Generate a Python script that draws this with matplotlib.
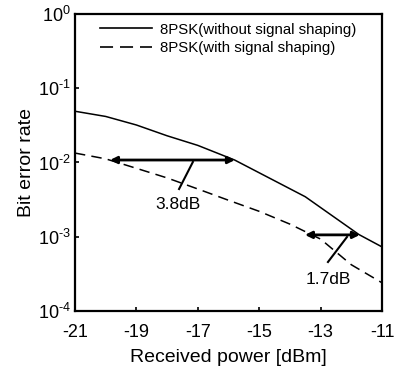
import numpy as np
import matplotlib
matplotlib.use("Agg")
import matplotlib.pyplot as plt
from matplotlib.lines import Line2D
from matplotlib.ticker import LogLocator, FuncFormatter, NullLocator

plt.rcParams["font.family"] = ["Liberation Sans", "DejaVu Sans"]
plt.rcParams["mathtext.fontset"] = "custom"
plt.rcParams["mathtext.rm"] = "Liberation Sans"
plt.rcParams["mathtext.it"] = "Liberation Sans"
plt.rcParams["mathtext.default"] = "regular"
plt.rcParams["axes.unicode_minus"] = False
plt.rcParams["lines.scale_dashes"] = False

power_solid = [-21, -20, -19, -18, -17, -15.8, -13.5, -11.75, -11]
ber_solid = [0.049, 0.0417, 0.032, 0.0229, 0.017, 0.0108, 0.00346, 0.00107, 0.00073]

power_dashed = [-21, -20, -19, -18, -17, -16, -15, -14, -13, -12, -11]
ber_dashed = [0.0134, 0.0112, 0.00835, 0.0062, 0.0044, 0.0031, 0.0022, 0.00148, 0.00093, 0.00042, 0.00024]

labels = ["8PSK(without signal shaping)", "8PSK(with signal shaping)"]

# power penalty arrows: (x_start, x_end, ber)
gain1 = (-19.86, -15.79, 0.0108)
gain2 = (-13.51, -11.72, 0.00106)


def sci_label(v, pos):
    e = int(round(np.log10(v)))
    if e < 0:
        return r"$10^{\text{-}%d}$" % (-e)
    return r"$10^{%d}$" % e


fig = plt.figure(figsize=(3.98, 3.73), dpi=100)
ax = fig.add_axes([0.1884, 0.1662, 0.7714, 0.7963])

ax.semilogy(power_solid, ber_solid, color="black", lw=1.1)
ax.semilogy(power_dashed, ber_dashed, color="black", lw=1.1, dashes=(7.5, 4.5))

for x0, x1, y in [gain1, gain2]:
    ax.annotate("", xy=(x0, y), xytext=(x1, y),
                arrowprops=dict(arrowstyle="<|-|>", color="black", lw=2.0,
                                mutation_scale=10, shrinkA=0, shrinkB=0))

# leader lines and labels
ax.plot([-17.16, -17.61], [10 ** -1.993, 10 ** -2.357], color="black", lw=1.5)
ax.text(-17.65, 10 ** -2.56, "3.8dB", ha="center", va="center", fontsize=12.5)
ax.plot([-12.14, -12.76], [10 ** -3.003, 10 ** -3.34], color="black", lw=1.5)
ax.text(-12.76, 10 ** -3.58, "1.7dB", ha="center", va="center", fontsize=12.5)

ax.set_xlim(-21, -11)
ax.set_ylim(1e-4, 1)
ax.set_xticks([-21, -19, -17, -15, -13, -11])
ax.yaxis.set_major_locator(LogLocator(base=10, numticks=10))
ax.yaxis.set_major_formatter(FuncFormatter(sci_label))
ax.yaxis.set_minor_locator(NullLocator())
ax.tick_params(direction="in", length=3, width=1.2, labelsize=13)
ax.tick_params(axis="x", pad=9)
ax.tick_params(axis="y", pad=3)
for s in ax.spines.values():
    s.set_linewidth(1.6)

ax.set_xlabel("Received power [dBm]", fontsize=14, labelpad=6)
ax.set_ylabel("Bit error rate", fontsize=14, labelpad=2)

# legend handles use longer dashes than the plotted curve
handles = [Line2D([], [], color="black", lw=1.2),
           Line2D([], [], color="black", lw=1.2, dashes=(9.4, 5.0))]
ax.legend(handles, labels, loc="upper left", bbox_to_anchor=(0.0814, 0.971),
          frameon=False, fontsize=10.8, handlelength=3.5, handletextpad=0.47,
          labelspacing=0.3, borderaxespad=0, borderpad=0)

fig.savefig("out.png", dpi=100)
